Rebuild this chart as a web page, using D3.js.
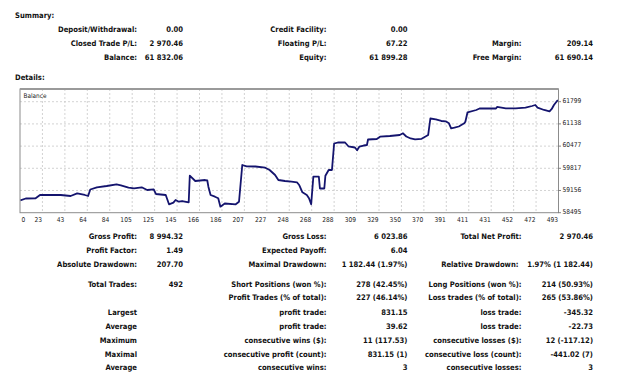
<!DOCTYPE html>
<html>
<head>
<meta charset="utf-8">
<script src="https://cdn.jsdelivr.net/npm/d3@7"></script>
<style>
body { margin:0; background:#fff; }
text { font-family:"DejaVu Sans Condensed","DejaVu Sans",sans-serif; }
</style>
</head>
<body>
<script>
// balance curve: trade number / balance
var tradeIdx = [0,5,14,18,37,46,52,59,62,64,70,79,88,92,99,104,111,116,122,124,133,136,140,142,145,148,154,155,160,169,171,172,174,178,181,183,187,197,200,203,207,215,224,228,233,236,242,248,253,255,258,262,264,266,268,273,274,278,279,282,285,287,291,297,300,306,308,310,314,317,318,326,329,338,347,350,353,357,361,367,373,375,380,385,389,392,394,397,401,406,407,409,417,420,429,435,436,444,453,462,468,471,473,479,484,486,488,491,492];
var balance = [58862,58918,58924,59022,59022,58992,59072,59022,58992,59186,59251,59290,59340,59311,59239,59221,59251,59171,59192,59052,59022,58745,58793,58873,58822,58843,58805,59596,59439,59468,59454,59269,59022,58971,58924,58674,58769,58745,58822,59915,59876,59870,59835,59766,59617,59468,59439,59418,59400,59320,59102,59022,58924,58745,59567,59567,59215,59215,59596,59766,59766,60555,60591,60585,60472,60436,60353,60460,60495,60510,60674,60689,60758,60778,60808,60859,60763,60704,60680,60695,60808,61299,61275,61225,61216,61156,61008,61025,61061,61156,61204,61484,61552,61597,61597,61597,61642,61603,61603,61621,61671,61701,61621,61552,61514,61582,61701,61829,61832];

var xTicks = ["0","23","43","64","84","105","125","145","166","186","207","227","248","268","288","309","329","350","370","391","411","431","452","472","493"];
var yTicks = [58495,59156,59817,60477,61138,61799];

var summaryRows = [
  ["Deposit/Withdrawal:", "0.00", "Credit Facility:", "0.00", "", ""],
  ["Closed Trade P/L:", "2 970.46", "Floating P/L:", "67.22", "Margin:", "209.14"],
  ["Balance:", "61 832.06", "Equity:", "61 899.28", "Free Margin:", "61 690.14"]
];
var detailRows = [
  ["Gross Profit:", "8 994.32", "Gross Loss:", "6 023.86", "Total Net Profit:", "2 970.46"],
  ["Profit Factor:", "1.49", "Expected Payoff:", "6.04", "", ""],
  ["Absolute Drawdown:", "207.70", "Maximal Drawdown:", "1 182.44 (1.97%)", "Relative Drawdown:", "1.97% (1 182.44)"],
  ["Total Trades:", "492", "Short Positions (won %):", "278 (42.45%)", "Long Positions (won %):", "214 (50.93%)"],
  ["", "", "Profit Trades (% of total):", "227 (46.14%)", "Loss trades (% of total):", "265 (53.86%)"],
  ["Largest", "", "profit trade:", "831.15", "loss trade:", "-345.32"],
  ["Average", "", "profit trade:", "39.62", "loss trade:", "-22.73"],
  ["Maximum", "", "consecutive wins ($):", "11 (117.53)", "consecutive losses ($):", "12 (-117.12)"],
  ["Maximal", "", "consecutive profit (count):", "831.15 (1)", "consecutive loss (count):", "-441.02 (7)"],
  ["Average", "", "consecutive wins:", "3", "consecutive losses:", "3"]
];

var svg = d3.select("body").append("svg")
    .attr("width", 625)
    .attr("height", 379);

var colRight = [137, 183, 326.5, 407.5, 521.5, 593];

function table(rows, ys) {
	rows.forEach(function(r, i){
		r.forEach(function(t, j){
			if (!t) return;
			var x = colRight[j];
			if (i == 2 && j == 4 && rows === detailRows) x = 518.5;
			svg.append("text")
				.attr("x", x).attr("y", ys[i] + 2.7)
				.attr("text-anchor", "end")
				.attr("font-size", 7.6).attr("font-weight", "bold")
				.attr("fill", "#111")
				.text(t);
		});
	});
}

svg.append("text").attr("x", 15).attr("y", 17.7)
	.attr("font-size", 7.6).attr("font-weight", "bold").attr("fill", "#111").text("Summary:");
svg.append("text").attr("x", 15).attr("y", 79.7)
	.attr("font-size", 7.6).attr("font-weight", "bold").attr("fill", "#111").text("Details:");

table(summaryRows, [29, 43, 57]);
table(detailRows, [236.7, 250.7, 264.7, 284, 297.7, 312, 326, 340, 354, 367.7]);

// chart
var L = 20, R = 558.5, T = 89, B = 212.7;

var x = d3.scaleLinear().domain([0, 492]).range([L + 0.3, R - 0.2]);
var y = d3.scaleLinear().domain([58495, 62177]).range([B, T]);
var xp = d3.scalePoint().domain(xTicks).range([L, R]);

var g = svg.append("g");

g.selectAll(".vg").data(xTicks.slice(1, -1))
	.enter().append("line")
	.attr("x1", function(d){ return xp(d); }).attr("x2", function(d){ return xp(d); })
	.attr("y1", T).attr("y2", B)
	.attr("stroke", "#c8c8c8").attr("stroke-dasharray", "2,2").attr("stroke-width", 0.8);

g.selectAll(".hg").data(yTicks.slice(1))
	.enter().append("line")
	.attr("x1", L).attr("x2", R)
	.attr("y1", function(d){ return y(d); }).attr("y2", function(d){ return y(d); })
	.attr("stroke", "#c8c8c8").attr("stroke-dasharray", "2,2").attr("stroke-width", 0.8);

var pts = tradeIdx.map(function(d, i){ return [d, balance[i]]; });
var line = d3.line().x(function(d){ return x(d[0]); }).y(function(d){ return y(d[1]); });

g.append("path").datum(pts)
	.attr("d", line)
	.attr("fill", "none")
	.attr("stroke", "#14146e")
	.attr("stroke-width", 1.8)
	.attr("stroke-linejoin", "round");

g.append("rect")
	.attr("x", L).attr("y", T).attr("width", R - L).attr("height", B - T)
	.attr("fill", "none").attr("stroke", "#8c8c8c").attr("stroke-width", 1);
g.append("line").attr("x1", L).attr("x2", R).attr("y1", T).attr("y2", T)
	.attr("stroke", "#9a9a9a").attr("stroke-width", 2);

g.append("text").attr("x", L + 3.5).attr("y", T + 8.5)
	.attr("font-size", 6.4).attr("fill", "#222").text("Balance");

// y labels on the right
g.selectAll(".yl").data(yTicks)
	.enter().append("text")
	.attr("x", R + 4).attr("y", function(d){ return y(d) + 1.3; })
	.attr("font-size", 6.6).attr("fill", "#222")
	.text(function(d){ return d; });
g.selectAll(".yt").data(yTicks)
	.enter().append("line")
	.attr("x1", R).attr("x2", R + 2.5)
	.attr("y1", function(d){ return y(d); }).attr("y2", function(d){ return y(d); })
	.attr("stroke", "#666").attr("stroke-width", 0.8);

// x labels under the plot
g.selectAll(".xl").data(xTicks)
	.enter().append("text")
	.attr("x", function(d, i){ return i == 0 ? L + 1.5 : xp(d) - 0.5; })
	.attr("y", B + 9)
	.attr("text-anchor", function(d, i){ return i == 0 ? "start" : "end"; })
	.attr("font-size", 6.6).attr("fill", "#222")
	.text(function(d){ return d; });
</script>
</body>
</html>
